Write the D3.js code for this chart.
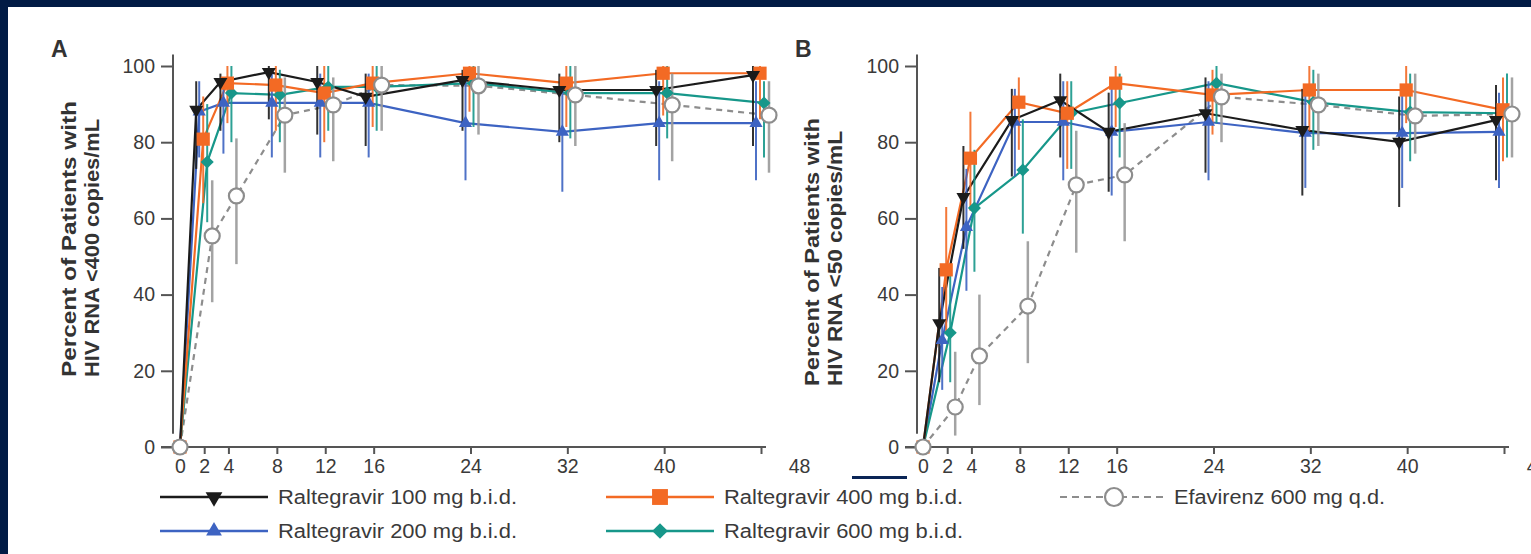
<!DOCTYPE html>
<html>
<head>
<meta charset="utf-8">
<script src="https://cdn.jsdelivr.net/npm/d3@7"></script>
<style>
  html, body { margin: 0; padding: 0; background: #011b45; }
  svg { display: block; }
  text { font-family: "Liberation Sans", Arial, sans-serif; }
</style>
</head>
<body>
<div class="chart"></div>
<script>
const W = 1531, H = 554;

// weeks on treatment
const weeks = [0, 2, 4, 8, 12, 16, 24, 32, 40, 48];
const yTicks = [0, 20, 40, 60, 80, 100];

const seriesNames = [
  "Raltegravir 100 mg b.i.d.",
  "Raltegravir 200 mg b.i.d.",
  "Raltegravir 400 mg b.i.d.",
  "Raltegravir 600 mg b.i.d.",
  "Efavirenz 600 mg q.d."
];

// panel A: HIV RNA <400 copies/mL (percent, with 95% CI low / high)
const a_r100 = [0, 88.5, 95.8, 98.4, 95.8, 91.9, 96.3, 93.7, 93.7, 97.6];
const a_r100_lo = [0, 73, 83, 86, 82, 79, 83, 80, 79, 79];
const a_r100_hi = [0, 96, 98, 100, 100, 98, 99, 98, 99, 100];
const a_r200 = [0, 88, 90.3, 90.3, 90.3, 90.3, 85, 82.7, 85, 85];
const a_r200_lo = [0, 76, 77, 76, 76, 76, 70, 67, 70, 70];
const a_r200_hi = [0, 96, 97, 98, 98, 98, 96, 95, 96, 96];
const a_r400 = [0, 80.8, 95.5, 95, 92.9, 95.5, 98.1, 95.5, 98.1, 98.1];
const a_r400_lo = [0, 64, 85, 83, 80, 84, 88, 84, 87, 86];
const a_r400_hi = [0, 92, 100, 100, 100, 100, 100, 100, 100, 100];
const a_r600 = [0, 74.8, 92.9, 92.4, 94.5, 94.5, 95.5, 92.9, 92.9, 90.3];
const a_r600_lo = [0, 59, 80, 80, 83, 83, 84, 81, 81, 76];
const a_r600_hi = [0, 90, 100, 99, 100, 100, 100, 100, 100, 96];
const a_efv = [0, 55.4, 65.9, 87.1, 89.8, 95, 94.8, 92.4, 89.8, 87.1];
const a_efv_lo = [0, 38, 48, 72, 75, 83, 82, 79, 75, 72];
const a_efv_hi = [0, 70, 81, 97, 97, 100, 100, 100, 98, 96];

// panel B: HIV RNA <50 copies/mL
const b_r100 = [0, 32.5, 65.6, 85.8, 91, 82.7, 87.6, 83.2, 80.1, 85.8];
const b_r100_lo = [0, 17, 52, 71, 76, 67, 72, 66, 63, 70];
const b_r100_hi = [0, 47, 79, 94, 98, 93, 97, 94, 92, 95];
const b_r200 = [0, 28, 57.7, 85.3, 85.3, 82.7, 85.3, 82.4, 82.4, 82.7];
const b_r200_lo = [0, 15, 41, 71, 70, 66, 70, 68, 68, 68];
const b_r200_hi = [0, 42, 73, 94, 96, 94, 96, 94, 94, 93];
const b_r400 = [0, 46.5, 75.8, 90.5, 87.6, 95.5, 92.4, 93.7, 93.7, 88.5];
const b_r400_lo = [0, 30, 62, 78, 73, 84, 82, 83, 85, 75];
const b_r400_hi = [0, 63, 88, 97, 96, 100, 99, 100, 100, 97];
const b_r600 = [0, 30, 62.7, 72.7, 87.6, 90.3, 95.5, 90.5, 87.9, 87.6];
const b_r600_lo = [0, 17, 46, 56, 73, 76, 85, 78, 75, 76];
const b_r600_hi = [0, 47, 78, 86, 96, 98, 100, 99, 98, 98];
const b_efv = [0, 10.5, 23.9, 37, 68.8, 71.4, 91.9, 89.8, 86.9, 87.4];
const b_efv_lo = [0, 3, 11, 22, 51, 54, 80, 79, 77, 76];
const b_efv_hi = [0, 25, 40, 54, 83, 85, 98, 98, 98, 97];

const colors = ["#1b1b1b", "#3d63c2", "#f36a24", "#17978a", "#8d8d8d"];
const dodge = [-8, -5, -1, 3, 8];   // px shift per series so the bars don't overlap
const drawOrder = [4, 1, 3, 2, 0];
const markerOrder = [1, 3, 2, 0, 4]; // open circles sit on top

const font_tick = 19.5;
const axis_color = "#555";
const text_color = "#3a3a3a";

const svg = d3.select(".chart")
  .append("svg")
  .attr("width", W)
  .attr("height", H);

// white sheet on the navy slide
svg.append("rect").attr("x", 0).attr("y", 0).attr("width", W).attr("height", H).attr("fill", "#011b45");
svg.append("rect").attr("x", 8).attr("y", 7).attr("width", W - 8).attr("height", H - 7).attr("fill", "#fff");
svg.append("rect").attr("x", 852).attr("y", 476).attr("width", 55).attr("height", 3).attr("fill", "#0a2556");

function marker(g, i, x, y, big) {
  const k = big ? 1.2 : 1;
  if (i === 4) {
    g.append("circle").attr("cx", x).attr("cy", y).attr("r", 7.5 * k)
      .attr("fill", "#fff").attr("stroke", colors[4]).attr("stroke-width", 2.2);
    return;
  }
  // diamond = square turned 45deg
  const types = [d3.symbolTriangle, d3.symbolTriangle, d3.symbolSquare, d3.symbolSquare];
  const sizes = [85, 75, 175, 85];
  const rot = [180, 0, 0, 45];
  g.append("path")
    .attr("d", d3.symbol().type(types[i]).size(sizes[i] * k * k)())
    .attr("transform", `translate(${x},${y}) rotate(${rot[i]})`)
    .attr("fill", colors[i]);
}

function panel(opt) {
  const x = d3.scaleLinear().domain([0, 48]).range([opt.x0, opt.x0 + 581]);
  const y = d3.scaleLinear().domain([0, 100]).range([447, 66]);
  const g = svg.append("g");

  // y axis
  const ya = g.append("g")
    .attr("transform", `translate(${opt.yAxisX},0)`)
    .call(d3.axisLeft(y).tickValues(yTicks).tickSize(12).tickPadding(6));
  ya.select(".domain").remove();
  ya.append("line").attr("x1", 0).attr("x2", 0).attr("y1", y(103)).attr("y2", y(3.5))
    .attr("stroke", axis_color).attr("stroke-width", 2);
  ya.selectAll(".tick line").attr("stroke", axis_color).attr("stroke-width", 2);
  ya.selectAll(".tick text").attr("fill", text_color).style("font-size", font_tick + "px")
    .style("font-family", '"Liberation Sans", Arial, sans-serif');

  // x axis
  const xa = g.append("g")
    .attr("transform", "translate(0,447)")
    .call(d3.axisBottom(x).tickValues(weeks).tickSize(7).tickPadding(5));
  xa.select(".domain").remove();
  xa.append("line").attr("x1", opt.yAxisX - 12).attr("x2", x(48) + 5).attr("y1", 0).attr("y2", 0)
    .attr("stroke", axis_color).attr("stroke-width", 2);
  xa.selectAll(".tick line").attr("stroke", axis_color).attr("stroke-width", 2);
  xa.selectAll(".tick text").attr("fill", text_color).style("font-size", font_tick + "px")
    .style("font-family", '"Liberation Sans", Arial, sans-serif');
  xa.selectAll(".tick text").filter(d => d === 48).attr("dx", opt.lastLabelShift);

  // panel letter
  g.append("text").attr("x", opt.letterX).attr("y", 57).text(opt.letter)
    .attr("fill", "#333").style("font-size", "23px").style("font-weight", "bold");

  // y title (two lines, rotated)
  const t = g.append("g").attr("transform", `translate(${opt.titleX},${opt.titleY}) rotate(-90)`);
  t.append("text").attr("x", 0).attr("y", 0).text("Percent of Patients with")
    .attr("textLength", opt.len1).attr("lengthAdjust", "spacingAndGlyphs")
    .attr("fill", "#333").style("font-size", "20px").style("font-weight", "bold");
  t.append("text").attr("x", 0).attr("y", 23).text(opt.title2)
    .attr("textLength", opt.len2).attr("lengthAdjust", "spacingAndGlyphs")
    .attr("fill", "#333").style("font-size", "20px").style("font-weight", "bold");

  const px = (i, j) => x(weeks[j]) + (j === 0 ? 0 : dodge[i]);

  drawOrder.forEach(function(i) {
    const vals = opt.vals[i];
    const line = d3.line().x((d, j) => px(i, j)).y(d => y(d));
    g.append("path").datum(vals).attr("d", line)
      .attr("fill", "none").attr("stroke", colors[i]).attr("stroke-width", 2.2)
      .attr("stroke-dasharray", i === 4 ? "6,5" : null);
  });
  drawOrder.forEach(function(i) {
    const lo = opt.lo[i], hi = opt.hi[i];
    g.selectAll(null).data(weeks.slice(1)).enter().append("line")
      .attr("x1", (d, k) => px(i, k + 1)).attr("x2", (d, k) => px(i, k + 1))
      .attr("y1", (d, k) => y(lo[k + 1])).attr("y2", (d, k) => y(hi[k + 1]))
      .attr("stroke", i === 4 ? "#9a9a9a" : colors[i]).attr("stroke-width", i === 4 ? 2.5 : 2)
      .attr("opacity", 0.9);
  });
  markerOrder.forEach(function(i) {
    opt.vals[i].forEach(function(v, j) { marker(g, i, px(i, j), y(v), false); });
  });
}

panel({
  x0: 180, yAxisX: 173, letter: "A", letterX: 51, lastLabelShift: 38,
  titleX: 76, titleY: 377, len1: 276, len2: 258, title2: "HIV RNA <400 copies/mL",
  vals: [a_r100, a_r200, a_r400, a_r600, a_efv],
  lo: [a_r100_lo, a_r200_lo, a_r400_lo, a_r600_lo, a_efv_lo],
  hi: [a_r100_hi, a_r200_hi, a_r400_hi, a_r600_hi, a_efv_hi]
});

panel({
  x0: 923, yAxisX: 917, letter: "B", letterX: 795, lastLabelShift: 33,
  titleX: 819, titleY: 386, len1: 268, len2: 255, title2: "HIV RNA <50 copies/mL",
  vals: [b_r100, b_r200, b_r400, b_r600, b_efv],
  lo: [b_r100_lo, b_r200_lo, b_r400_lo, b_r600_lo, b_efv_lo],
  hi: [b_r100_hi, b_r200_hi, b_r400_hi, b_r600_hi, b_efv_hi]
});

// legend
const legendPos = [
  { x: 160, y: 497 }, { x: 160, y: 531 }, { x: 606, y: 497 }, { x: 606, y: 531 }, { x: 1060, y: 497 }
];
const legendLen = [239, 239, 239, 239, 211];
const lg = svg.append("g");
seriesNames.forEach(function(name, i) {
  const p = legendPos[i];
  lg.append("line").attr("x1", p.x).attr("x2", p.x + 108).attr("y1", p.y).attr("y2", p.y)
    .attr("stroke", colors[i]).attr("stroke-width", i === 4 ? 2 : 2.5)
    .attr("stroke-dasharray", i === 4 ? "7,5" : null);
  marker(lg, i, p.x + 54, p.y, true);
  lg.append("text").attr("x", p.x + (i === 4 ? 114 : 118)).attr("y", p.y + 7).text(name)
    .attr("textLength", legendLen[i]).attr("lengthAdjust", "spacingAndGlyphs")
    .attr("fill", text_color).style("font-size", font_tick + "px");
});
</script>
</body>
</html>
